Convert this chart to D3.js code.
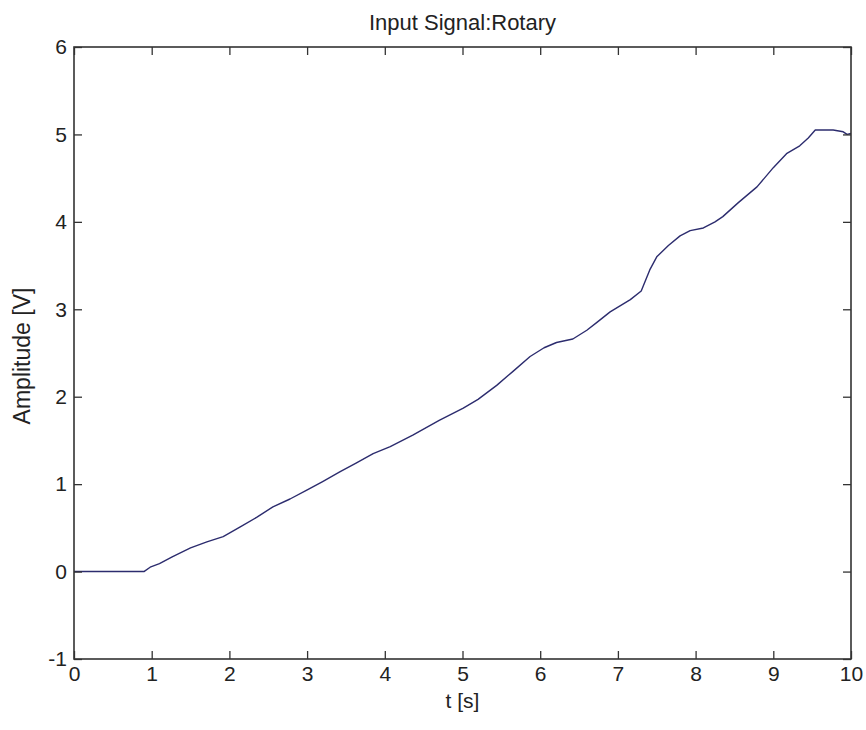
<!DOCTYPE html>
<html>
<head>
<meta charset="utf-8">
<script src="https://cdn.jsdelivr.net/npm/d3@7"></script>
<style>
  html, body { margin: 0; padding: 0; background: #fff; }
  svg text { font-family: "Liberation Sans", Arial, Helvetica, sans-serif; fill: #222; }
</style>
</head>
<body>
<svg id="chart" width="866" height="730"></svg>
<script>
const title = "Input Signal:Rotary";
const xLabel = "t [s]";
const yLabel = "Amplitude [V]";
const xTicks = [0, 1, 2, 3, 4, 5, 6, 7, 8, 9, 10];
const yTicks = [-1, 0, 1, 2, 3, 4, 5, 6];
const timeS = [0, 0.9, 0.98, 1.1, 1.27, 1.5, 1.71, 1.92, 2.14, 2.35, 2.56, 2.78, 2.99, 3.2, 3.42, 3.63, 3.85, 4.07, 4.36, 4.7, 5.01, 5.2, 5.44, 5.65, 5.87, 6.05, 6.21, 6.42, 6.6, 6.73, 6.9, 7.16, 7.3, 7.41, 7.5, 7.65, 7.8, 7.93, 8.1, 8.25, 8.35, 8.55, 8.79, 9.0, 9.17, 9.34, 9.45, 9.54, 9.77, 9.9, 9.95, 10];
const amplitudeV = [0, 0, 0.05, 0.09, 0.17, 0.27, 0.34, 0.40, 0.51, 0.62, 0.74, 0.83, 0.93, 1.03, 1.14, 1.24, 1.35, 1.43, 1.56, 1.73, 1.87, 1.97, 2.13, 2.29, 2.46, 2.56, 2.62, 2.66, 2.76, 2.85, 2.97, 3.11, 3.21, 3.45, 3.60, 3.73, 3.84, 3.90, 3.93, 4.00, 4.06, 4.22, 4.40, 4.62, 4.78, 4.87, 4.96, 5.05, 5.05, 5.03, 5.00, 5.01];

const data = timeS.map((t, i) => ({ t, v: amplitudeV[i] }));

const svg = d3.select("#chart");
const L = 74, R = 851, T = 47, B = 659;
const x = d3.scaleLinear().domain([0, 10]).range([L, R]);
const y = d3.scaleLinear().domain([-1, 6]).range([B, T]);
const fs = 21, tickLen = 8, axisColor = "#333";
const fmt = d => String(d);  // ASCII hyphen for negatives, as in the reference

// data line
svg.append("path")
  .datum(data)
  .attr("fill", "none")
  .attr("stroke", "#2c2c6e")
  .attr("stroke-width", 1.4)
  .attr("stroke-linejoin", "round")
  .attr("d", d3.line().x(d => x(d.t)).y(d => y(d.v)));

// axes (inward ticks)
function styleAxis(g, showLabels) {
  g.select(".domain").remove();
  g.selectAll(".tick line").attr("stroke", axisColor).attr("stroke-width", 1.3);
  g.selectAll(".tick text").attr("font-size", fs).attr("fill", "#222");
  if (!showLabels) g.selectAll(".tick text").remove();
}
svg.append("g").attr("transform", `translate(0,${B})`)
  .call(d3.axisBottom(x).tickValues(xTicks).tickFormat(fmt).tickSize(-tickLen).tickPadding(7))
  .call(g => styleAxis(g, true));
svg.append("g").attr("transform", `translate(0,${T})`)
  .call(d3.axisTop(x).tickValues(xTicks).tickSize(-tickLen))
  .call(g => styleAxis(g, false));
svg.append("g").attr("transform", `translate(${L},0)`)
  .call(d3.axisLeft(y).tickValues(yTicks).tickFormat(fmt).tickSize(-tickLen).tickPadding(7))
  .call(g => styleAxis(g, true));
svg.append("g").attr("transform", `translate(${R},0)`)
  .call(d3.axisRight(y).tickValues(yTicks).tickSize(-tickLen))
  .call(g => styleAxis(g, false));

// box
svg.append("rect")
  .attr("x", L).attr("y", T).attr("width", R - L).attr("height", B - T)
  .attr("fill", "none").attr("stroke", axisColor).attr("stroke-width", 1.6);

// labels
svg.append("text").attr("x", (L + R) / 2).attr("y", 30)
  .attr("text-anchor", "middle").attr("font-size", 22).text(title);
svg.append("text").attr("x", (L + R) / 2).attr("y", 708)
  .attr("text-anchor", "middle").attr("font-size", fs).text(xLabel);
svg.append("text").attr("transform", `translate(30,${(T + B) / 2 + 3}) rotate(-90)`)
  .attr("text-anchor", "middle").attr("font-size", 23).text(yLabel);
</script>
</body>
</html>
